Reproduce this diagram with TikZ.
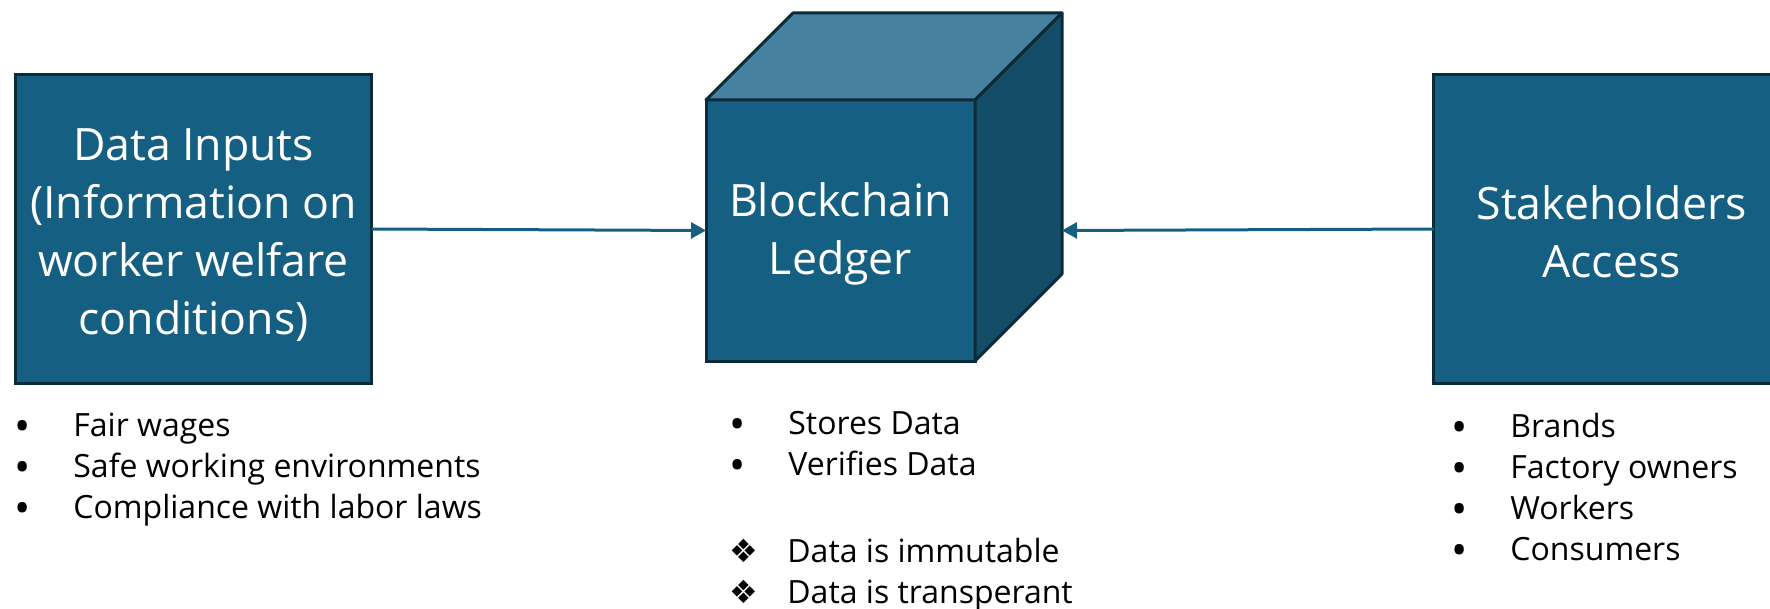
\documentclass[tikz,border=0pt]{standalone}
\usepackage{fontspec}
\setmainfont{Open Sans}
\newfontfamily\symfont{DejaVu Sans}
\usetikzlibrary{arrows.meta}

\definecolor{tealmain}{HTML}{156082}
\definecolor{tealtop}{HTML}{46829F}
\definecolor{tealside}{HTML}{134D68}
\definecolor{edgedark}{HTML}{0B2A3A}

% list markers
\newcommand\bigdot{\raisebox{-2.6pt}{\scalebox{1.35}{\textbullet}}}
\newcommand\bitem[1]{\makebox[29.5pt][l]{\bigdot}#1}
\newcommand\ditem[1]{\makebox[29pt][l]{\symfont\char"2756}#1}
% strut that sets the height of a box's first line
\newcommand\firstline[1]{\rule{0pt}{#1}}

\tikzset{
  panel/.style={draw=edgedark, line width=1.5pt, fill=tealmain, text=white,
    inner sep=0pt, outer sep=0pt, minimum width=178pt, minimum height=154.5pt,
    align=center, font=\fontsize{22.3}{29}\selectfont},
  cubeface/.style={draw=edgedark, line width=1.5pt, line join=round},
  flow/.style={draw=tealmain, line width=1.5pt, -{Triangle[length=7.5pt,width=8pt]}},
  bullets/.style={anchor=base west, align=left, inner sep=0pt,
    font=\fontsize{16}{20.5}\selectfont},
}

\begin{document}
\begin{tikzpicture}[x=0.5pt, y=-0.5pt]
  \useasboundingbox (0,0) rectangle (1770,609);
  \clip (0,0) rectangle (1770,609);

  % input box
  \node[panel] (datain) at (193.5,229)
    {\firstline{22.5pt}Data Inputs\\(Information on\\worker welfare\\conditions)};

  % ledger cube: front face, then top and side faces
  \node[panel, minimum width=134.5pt, minimum height=130.5pt] (ledger)
    at (840.5,230.5) {\firstline{20.3pt}Blockchain\\Ledger};
  \draw[cubeface, fill=tealtop] (ledger.north west) -- ++(87,-87) -- ++(269,0)
    -- (ledger.north east) -- cycle;
  \draw[cubeface, fill=tealside] (ledger.north east) -- ++(87,-87) -- ++(0,261)
    -- (ledger.south east) -- cycle;
  \coordinate (backedge) at ([xshift=43.5pt]ledger.east);

  % stakeholder box
  \node[panel] (access) at (1611.5,229) {\firstline{19.7pt}Stakeholders\\Access};

  % connectors
  \draw[flow] (datain.east) -- (ledger.west);
  \draw[flow] (access.west) -- (backedge);

  % lists under the boxes (anchored at the baseline of their last line)
  \node[bullets] (inputlist) at (14,518)
    {\bitem{Fair wages}\\\bitem{Safe working environments}\\\bitem{Compliance with labor laws}};
  \node[bullets] (storelist) at (729,475)
    {\bitem{Stores Data}\\\bitem{Verifies Data}};
  \node[bullets] (proplist) at (729,603)
    {\ditem{Data is immutable}\\\ditem{Data is transperant}};
  \node[bullets] (userlist) at (1451,560)
    {\bitem{Brands}\\\bitem{Factory owners}\\\bitem{Workers}\\\bitem{Consumers}};
\end{tikzpicture}
\end{document}
